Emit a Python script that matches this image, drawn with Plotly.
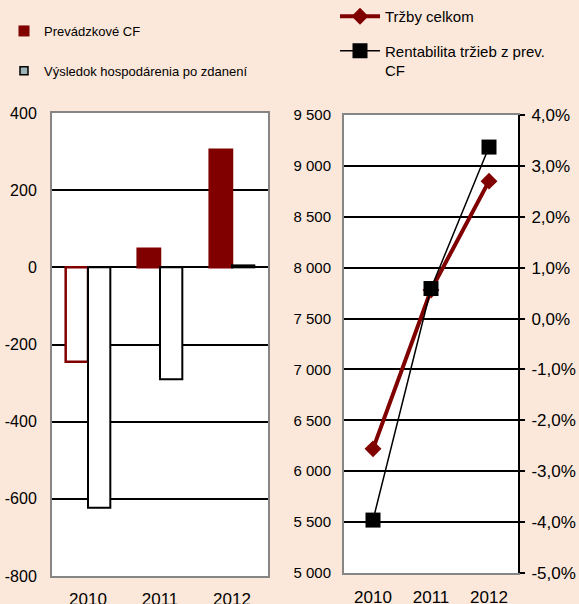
import plotly.graph_objects as go

# data
years = ["2010", "2011", "2012"]
prevadzkove_cf = [-245, 48, 305]
vysledok_hosp = [-623, -290, 5]
trzby_celkom = [6220, 7780, 8850]
rentabilita = [-0.0396, 0.0059, 0.0337]

left_ticks = [-800, -600, -400, -200, 0, 200, 400]
left_ticktext = ["-800", "-600", "-400", "-200", "0", "200", "400"]
trzby_ticks = [5000, 5500, 6000, 6500, 7000, 7500, 8000, 8500, 9000, 9500]
trzby_ticktext = ["5 000", "5 500", "6 000", "6 500", "7 000", "7 500",
                  "8 000", "8 500", "9 000", "9 500"]
rent_ticks = [-0.05, -0.04, -0.03, -0.02, -0.01, 0.0, 0.01, 0.02, 0.03, 0.04]
rent_ticktext = ["-5,0%", "-4,0%", "-3,0%", "-2,0%", "-1,0%", "0,0%",
                 "1,0%", "2,0%", "3,0%", "4,0%"]

DARK_RED = "#800000"
BG = "#FCE8DA"
FONT = "Liberation Sans"

W, H = 579, 604

fig = go.Figure()

# left panel: bars (invert-if-negative look for CF)
cf_fill = ["white" if v < 0 else DARK_RED for v in prevadzkove_cf]
fig.add_trace(go.Bar(
    x=years, y=prevadzkove_cf, name="Prevádzkové CF",
    marker=dict(color=cf_fill, line=dict(color=DARK_RED, width=2.5)),
    xaxis="x", yaxis="y", showlegend=False
))
fig.add_trace(go.Bar(
    x=years, y=vysledok_hosp, name="Výsledok hospodárenia po zdanení",
    marker=dict(color="white", line=dict(color="black", width=2)),
    xaxis="x", yaxis="y", showlegend=False
))

# legend entries for bars
fig.add_trace(go.Scatter(
    x=[None], y=[None], mode="markers", name="Prevádzkové CF",
    marker=dict(symbol="square", size=11, color=DARK_RED),
    xaxis="x2", yaxis="y2", legend="legend", legendgroup="a"
))
fig.add_trace(go.Scatter(
    x=[None], y=[None], mode="markers", name="Výsledok hospodárenia po zdanení",
    marker=dict(symbol="square", size=8, color="#9DB4B6",
                line=dict(color="black", width=1.5)),
    xaxis="x2", yaxis="y2", legend="legend", legendgroup="b"
))

# right panel: lines
fig.add_trace(go.Scatter(
    x=years, y=trzby_celkom, name="Tržby celkom", mode="lines+markers",
    line=dict(color=DARK_RED, width=4),
    marker=dict(symbol="diamond", size=13, color=DARK_RED),
    xaxis="x2", yaxis="y2", legend="legend2", legendgroup="c"
))
fig.add_trace(go.Scatter(
    x=years, y=rentabilita, name="Rentabilita tržieb z prev.<br>CF",
    mode="lines+markers",
    line=dict(color="black", width=1.5),
    marker=dict(symbol="square", size=15, color="black"),
    xaxis="x2", yaxis="y3", legend="legend2", legendgroup="d"
))

grid = dict(showgrid=True, gridcolor="black", gridwidth=1.7, zeroline=False)

fig.update_layout(
    width=W, height=H,
    margin=dict(l=0, r=0, t=0, b=0, autoexpand=False),
    paper_bgcolor=BG, plot_bgcolor="white",
    font=dict(family=FONT, color="black", size=15),
    barmode="group", bargap=0.38, bargroupgap=0,
    xaxis=dict(
        domain=[52 / W, 268 / W], anchor="y", type="category",
        showline=True, linecolor="#868686", linewidth=2, mirror=True,
        ticks="", tickfont=dict(size=17), ticklabelstandoff=7,
        automargin=False,
    ),
    yaxis=dict(
        domain=[1 - 576 / H, 1 - 113 / H], anchor="x",
        range=[-800, 400], tickvals=left_ticks, ticktext=left_ticktext,
        showline=True, linecolor="#868686", linewidth=2, mirror=True,
        ticks="", tickfont=dict(size=16), ticklabelstandoff=10,
        automargin=False, **grid
    ),
    xaxis2=dict(
        domain=[344 / W, 518 / W], anchor="y2", type="category",
        range=[-0.5, 2.5],
        showline=True, linecolor="#868686", linewidth=2, mirror=True,
        ticks="", tickfont=dict(size=17), ticklabelstandoff=8,
        automargin=False,
    ),
    yaxis2=dict(
        domain=[1 - 573 / H, 1 - 115 / H], anchor="x2",
        range=[5000, 9500], tickvals=trzby_ticks, ticktext=trzby_ticktext,
        showline=True, linecolor="#868686", linewidth=2,
        ticks="", tickfont=dict(size=15), ticklabelstandoff=8,
        automargin=False, **grid
    ),
    yaxis3=dict(
        overlaying="y2", side="right", anchor="x2",
        range=[-0.05, 0.04], tickvals=rent_ticks, ticktext=rent_ticktext,
        showline=True, linecolor="black", linewidth=2, showgrid=False,
        zeroline=False, ticks="outside", ticklen=5, tickwidth=2,
        tickcolor="black", tickfont=dict(size=17), ticklabelstandoff=3,
        automargin=False,
    ),
    legend=dict(
        x=4 / W, y=1 - 16 / H, xanchor="left", yanchor="top",
        bgcolor="rgba(0,0,0,0)", font=dict(size=13),
        tracegroupgap=20, itemwidth=30,
    ),
    legend2=dict(
        x=335 / W, y=1, xanchor="left", yanchor="top",
        bgcolor="rgba(0,0,0,0)", font=dict(size=15),
        tracegroupgap=12, valign="top", itemwidth=40,
    ),
)

# page has a default 8px body margin; drop it so the chart fills the window
fig.write_html(
    "out.html",
    config={"displayModeBar": False},
    post_script="document.body.style.margin='0';"
                "document.body.style.background='" + BG + "';",
)
